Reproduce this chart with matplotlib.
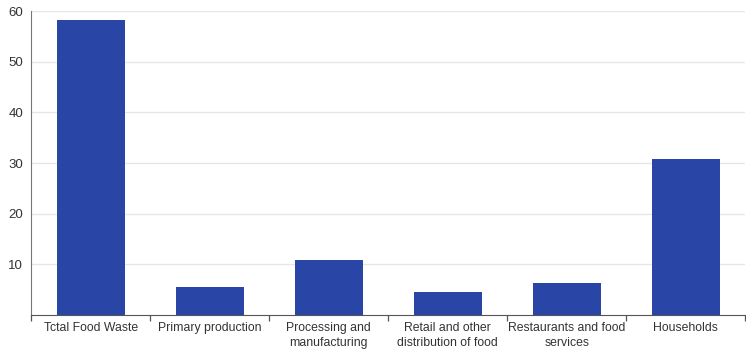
import matplotlib
matplotlib.use("Agg")
from matplotlib import pyplot as plt
import numpy as np

plt.rcParams["font.family"] = ["Liberation Sans", "DejaVu Sans"]

categories = ["Tctal Food Waste", "Primary production", "Processing and\nmanufacturing",
              "Retail and other\ndistribution of food", "Restaurants and food\nservices", "Households"]
values = [58.2, 5.5, 10.8, 4.5, 6.4, 30.8]

fig = plt.figure(figsize=(7.46, 3.5), dpi=100)
ax = fig.add_axes([0.042, 0.1, 0.957, 0.868])

x = np.arange(len(categories))
ax.bar(x, values, width=0.57, color="#2945a5", zorder=3)

ax.set_xlim(-0.5, len(categories) - 0.5)
ax.set_ylim(0, 60)
ax.set_yticks([10, 20, 30, 40, 50, 60])
ax.yaxis.grid(True, color="#e6e6e6", linewidth=0.9, zorder=0)

# category labels centered, tick marks between categories
ax.set_xticks(x)
ax.set_xticklabels(categories, fontsize=8.8, color="#333333", va="top", linespacing=1.35)
ax.tick_params(axis="x", length=0, pad=5)
ax.set_xticks(np.arange(-0.5, len(categories), 1), minor=True)
ax.tick_params(axis="x", which="minor", length=4, color="#555555", width=0.9)
ax.tick_params(axis="y", length=0, labelsize=9.5, labelcolor="#333333", pad=6)

for s in ["top", "right"]:
    ax.spines[s].set_visible(False)
ax.spines["left"].set_color("#777777")
ax.spines["bottom"].set_color("#555555")

fig.savefig("out.png", dpi=100)
